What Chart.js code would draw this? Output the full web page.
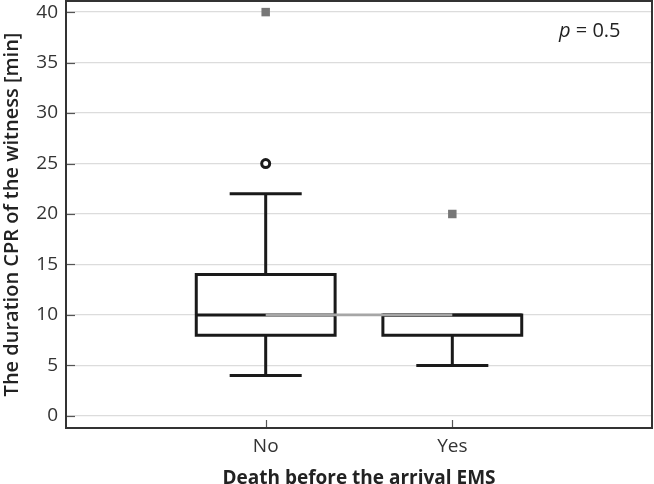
<!DOCTYPE html>
<html><head><meta charset="utf-8">
<script src="https://cdn.jsdelivr.net/npm/chart.js@4.4.1/dist/chart.umd.min.js"></script>
<style>html,body{margin:0;padding:0;background:#fff;} #wrap{width:654px;height:484px;position:relative;}</style>
</head><body><div id="wrap"><canvas id="c"></canvas></div>
<script>
// ---- data ----
const categories = ['No', 'Yes'];
const whiskerLow = [4, 5];
const q1 = [8, 8];
const median = [10, 10];
const q3 = [14, 10];
const whiskerHigh = [22, 10];
const outliers = [[25], []];
const extremes = [[40], [20]];
const yTickValues = [0, 5, 10, 15, 20, 25, 30, 35, 40];
const xTitle = 'Death before the arrival EMS';
const yTitle = 'The duration CPR of the witness [min]';
const pValue = '0.5';

// ---- styles ----
const BOX_HALF = 0.372;
const CAP_HALF = 0.193;
const INK = '#1a1a1a';

Chart.defaults.font.family = "'Open Sans', sans-serif";
Chart.defaults.color = '#333';

const lineDs = (pts) => ({
  data: pts, showLine: true, borderColor: INK, borderWidth: 3,
  pointRadius: 0, pointHoverRadius: 0, borderCapStyle: 'butt',
  borderJoinStyle: 'miter', tension: 0, order: 2, fill: false
});

const datasets = [];
categories.forEach((cat, i) => {
  const c = i + 1;
  datasets.push(lineDs([
    {x: c, y: q1[i]}, {x: c + BOX_HALF, y: q1[i]}, {x: c + BOX_HALF, y: q3[i]},
    {x: c - BOX_HALF, y: q3[i]}, {x: c - BOX_HALF, y: q1[i]}, {x: c, y: q1[i]}
  ]));
  datasets.push(lineDs([{x: c - BOX_HALF, y: median[i]}, {x: c + BOX_HALF, y: median[i]}]));
  if (whiskerLow[i] < q1[i]) {
    datasets.push(lineDs([{x: c, y: q1[i]}, {x: c, y: whiskerLow[i]}]));
    datasets.push(lineDs([{x: c - CAP_HALF, y: whiskerLow[i]}, {x: c + CAP_HALF, y: whiskerLow[i]}]));
  }
  if (whiskerHigh[i] > q3[i]) {
    datasets.push(lineDs([{x: c, y: q3[i]}, {x: c, y: whiskerHigh[i]}]));
    datasets.push(lineDs([{x: c - CAP_HALF, y: whiskerHigh[i]}, {x: c + CAP_HALF, y: whiskerHigh[i]}]));
  }
  if (outliers[i].length) datasets.push({
    data: outliers[i].map(v => ({x: c, y: v})), showLine: false,
    pointStyle: 'circle', pointRadius: 4, pointBorderWidth: 3,
    pointBorderColor: INK, pointBackgroundColor: '#fff', order: 0
  });
  if (extremes[i].length) datasets.push({
    data: extremes[i].map(v => ({x: c, y: v})), showLine: false,
    pointStyle: 'rect', pointRadius: 6, pointBorderWidth: 0,
    pointBorderColor: '#777', pointBackgroundColor: '#777', order: 0
  });
});
datasets.push({
  data: median.map((m, i) => ({x: i + 1, y: m})), showLine: true,
  borderColor: '#a6a6a6', borderWidth: 2.7, pointRadius: 0, order: 1,
  borderCapStyle: 'butt'
});

const framePlugin = {
  id: 'frame',
  beforeDatasetsDraw(chart) {
    const {ctx, chartArea: a, scales} = chart;
    ctx.save();
    ctx.strokeStyle = '#555';
    ctx.lineWidth = 1.2;
    yTickValues.forEach(v => {
      const y = Math.round(scales.y.getPixelForValue(v)) + 0.5;
      ctx.beginPath(); ctx.moveTo(a.left, y); ctx.lineTo(a.left + 9, y); ctx.stroke();
    });
    categories.forEach((_, i) => {
      const x = Math.round(scales.x.getPixelForValue(i + 1)) + 0.5;
      ctx.beginPath(); ctx.moveTo(x, a.bottom); ctx.lineTo(x, a.bottom - 8); ctx.stroke();
    });
    ctx.restore();
  },
  afterDraw(chart) {
    const {ctx, chartArea: a} = chart;
    ctx.save();
    ctx.strokeStyle = '#333';
    ctx.lineWidth = 2;
    ctx.strokeRect(a.left, a.top, a.right - a.left, a.bottom - a.top);
    ctx.fillStyle = '#222';
    ctx.textBaseline = 'alphabetic';
    ctx.textAlign = 'left';
    const x0 = a.right - 93, y0 = a.top + 36;
    ctx.font = "italic 20px 'Open Sans', sans-serif";
    ctx.fillText('p', x0, y0);
    const w = ctx.measureText('p').width;
    ctx.font = "20px 'Open Sans', sans-serif";
    ctx.fillText(' = ' + pValue, x0 + w, y0);
    ctx.restore();
  }
};

new Chart(document.getElementById('c'), {
  type: 'scatter',
  data: {datasets},
  options: {
    responsive: true, maintainAspectRatio: false, animation: false,
    layout: {autoPadding: false, padding: {top: 1, right: 2, left: 0, bottom: 0}},
    plugins: {legend: {display: false}, tooltip: {enabled: false}},
    scales: {
      x: {
        type: 'linear', min: -0.07, max: 3.07,
        afterBuildTicks: s => { s.ticks = categories.map((_, i) => ({value: i + 1})); },
        afterFit: s => { s.height = 56; s.paddingLeft = 0; s.paddingRight = 0; },
        ticks: {callback: v => categories[Math.round(v) - 1] || '', padding: 7,
                font: {size: 19}, color: '#333', maxRotation: 0, autoSkip: false},
        grid: {display: false, drawTicks: false},
        border: {display: false},
        title: {display: true, text: xTitle, font: {size: 19, weight: 'bold'}, color: '#222',
                padding: {top: 9, bottom: -6}}
      },
      y: {
        min: -1.2, max: 41.1,
        afterBuildTicks: s => { s.ticks = yTickValues.map(v => ({value: v})); },
        afterFit: s => { s.width = 66; s.paddingTop = 0; s.paddingBottom = 0; },
        ticks: {padding: 8, font: {size: 19}, color: '#333'},
        grid: {color: '#dcdcdc', lineWidth: 1.3, drawTicks: false},
        border: {display: false},
        title: {display: true, text: yTitle, font: {size: 20, weight: '600'}, color: '#222',
                padding: {top: 0, bottom: 0}}
      }
    }
  },
  plugins: [framePlugin]
});
</script></body></html>
